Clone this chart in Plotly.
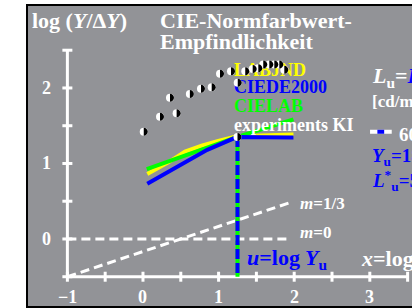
import plotly.graph_objects as go

# ---------------- data ----------------
exp_x = [0.01, 0.225, 0.445, 0.357, 0.62, 0.767, 0.909, 1.019, 1.164, 1.253,
         1.353, 1.451, 1.525, 1.591, 1.671, 1.737, 1.803, 1.869]
exp_y = [1.42, 1.62, 1.665, 1.87, 1.92, 1.99, 2.01, 2.19, 2.22, 2.07,
         2.22, 2.25, 2.26, 2.31, 2.31, 2.31, 2.31, 2.24]
labjnd_x = [0.057, 0.335, 0.556, 0.776, 0.996, 1.24, 1.99]
labjnd_y = [0.86, 1.015, 1.157, 1.236, 1.298, 1.36, 1.385]
ciede_x = [0.057, 0.45, 0.85, 1.24, 1.99]
ciede_y = [0.73, 0.96, 1.18, 1.35, 1.345]
cielab_x = [0.05, 1.24, 1.99]
cielab_y = [0.925, 1.35, 1.585]
u_x = [1.25, 1.25]
u_y = [1.35, -0.5]
m_x = [-1, 1.95]
m0_y = [0, 0]
m13_y = [-0.5, 0.483]
legend_names = ["LABJND", "CIEDE2000", "CIELAB", "experiments KI"]
legend_y = [2.216, 1.996, 1.744, 1.487]
xticks = [-1, 0, 1, 2, 3]
xtick_labels = ["\u22121", "0", "1", "2", "3"]
yticks = [0, 1, 2]
ytick_labels = ["0", "1", "2"]

WHITE = "#ffffff"
BLUE = "#0000ff"
YEL = "#ffff00"
GRN = "#00ff00"
GRAY = "#929397"
FONT = "Liberation Serif"

fig = go.Figure()

# white dashed reference lines
fig.add_trace(go.Scatter(x=m_x, y=m0_y, mode="lines",
                         line=dict(color=WHITE, width=3, dash="9px,5px")))
fig.add_trace(go.Scatter(x=m_x, y=m13_y, mode="lines",
                         line=dict(color=WHITE, width=3, dash="9px,5px")))

# vertical u line (green under blue dashes)
fig.add_trace(go.Scatter(x=u_x, y=u_y, mode="lines", line=dict(color=GRN, width=4)))
fig.add_trace(go.Scatter(x=u_x, y=u_y, mode="lines",
                         line=dict(color=BLUE, width=4, dash="10px,4px")))

# curves
fig.add_trace(go.Scatter(x=labjnd_x, y=labjnd_y, mode="lines", line=dict(color=YEL, width=4)))
fig.add_trace(go.Scatter(x=cielab_x, y=cielab_y, mode="lines", line=dict(color=GRN, width=4)))
fig.add_trace(go.Scatter(x=ciede_x, y=ciede_y, mode="lines", line=dict(color=BLUE, width=4)))

# legend texts
fig.add_trace(go.Scatter(
    x=[1.204] * 4, y=legend_y, mode="text",
    text=["<b>%s</b>" % t for t in legend_names],
    textposition="middle right",
    textfont=dict(family=FONT, size=18, color=[YEL, BLUE, GRN, WHITE])))

# experiment dots (white; black right half drawn as shapes)
dots_x = exp_x + [u_x[0]]
dots_y = exp_y + [u_y[0]]
fig.add_trace(go.Scatter(x=dots_x, y=dots_y, mode="markers",
                         marker=dict(color=WHITE, size=8, line=dict(width=0))))

shapes = []
# axes
shapes.append(dict(type="line", xref="x", yref="y", x0=-1, x1=-1, y0=-0.5, y1=2.5,
                   line=dict(color=WHITE, width=3), layer="below"))
shapes.append(dict(type="line", xref="x", yref="y", x0=-1, x1=3.5, y0=-0.5, y1=-0.5,
                   line=dict(color=WHITE, width=3), layer="below"))
for i in range(7):
    yv = -0.5 + 0.5 * i
    shapes.append(dict(type="line", xref="x", yref="y", x0=-1.066, x1=-0.934, y0=yv, y1=yv,
                       line=dict(color=WHITE, width=3), layer="below"))
for i in range(10):
    xv = -1 + 0.5 * i
    shapes.append(dict(type="line", xref="x", yref="y", x0=xv, x1=xv, y0=-0.566, y1=-0.434,
                       line=dict(color=WHITE, width=3), layer="below"))
# legend sample line (white-blue-white)
shapes.append(dict(type="line", xref="x", yref="y", x0=3.003, x1=3.29, y0=1.42, y1=1.42,
                   line=dict(color=WHITE, width=4)))
shapes.append(dict(type="line", xref="x", yref="y", x0=3.10, x1=3.19, y0=1.42, y1=1.42,
                   line=dict(color=BLUE, width=4)))
# black halves of the dots
half = "M 0,-4 C 2.2,-4 4,-2.2 4,0 C 4,2.2 2.2,4 0,4 Z"
for xv, yv in zip(dots_x, dots_y):
    shapes.append(dict(type="path", xref="x", yref="y", xsizemode="pixel", ysizemode="pixel",
                       xanchor=xv, yanchor=yv, path=half, fillcolor="black",
                       line=dict(width=0)))
# frame
shapes.append(dict(type="rect", xref="paper", yref="paper", x0=0, x1=1.05, y0=0, y1=1,
                   line=dict(color="black", width=2)))

ann = []


def A(x, y, text, size, color=WHITE, xanchor="left"):
    ann.append(dict(x=x, y=y, xref="x", yref="y", text="<b>%s</b>" % text, showarrow=False,
                    xanchor=xanchor, yanchor="middle",
                    font=dict(family=FONT, size=size, color=color)))


A(-1.495, 2.90, "log (<i>Y</i>/\u0394<i>Y</i>)", 22)
A(0.198, 2.90, "CIE-Normfarbwert-", 22)
A(0.198, 2.616, "Empfindlichkeit", 22)
for v, t in zip(yticks, ytick_labels):
    A(-1.27, v, t, 18, xanchor="center")
for v, t in zip(xticks, xtick_labels):
    A(v, -0.762, t, 18, xanchor="center")
A(2.046, 0.464, "<i>m</i>=1/3", 17)
A(2.046, 0.08, "<i>m</i>=0", 17)
A(1.349, -0.265, "<i>u</i>=log<i> Y</i><sub>u</sub>", 22, BLUE)
A(2.861, -0.265, "<i>x</i>=log<i> Y</i>", 22)
A(3.003, 2.15, "<i>L</i><sub>u</sub>=<span style='color:#0000ff'><i>L</i><sub>W</sub></span>", 22)
A(3.003, 1.84, "[cd/m<sup>2</sup>]", 17)
A(3.36, 1.39, "60", 19)
A(3.003, 1.086, "<i>Y</i><sub>u</sub>=18", 19, BLUE)
A(3.003, 0.78, "<i>L</i><sup>*</sup><sub>u</sub>=50", 19, BLUE)

fig.update_layout(
    width=412, height=308,
    margin=dict(l=27, r=0, t=5, b=1),
    paper_bgcolor="white", plot_bgcolor=GRAY,
    showlegend=False,
    xaxis=dict(range=[-1.534, 3.558], visible=False, fixedrange=True),
    yaxis=dict(range=[-0.901, 3.099], visible=False, fixedrange=True),
    shapes=shapes, annotations=ann,
)

fig.write_html("out.html", config={"displayModeBar": False},
               post_script="document.body.style.margin='0';")
